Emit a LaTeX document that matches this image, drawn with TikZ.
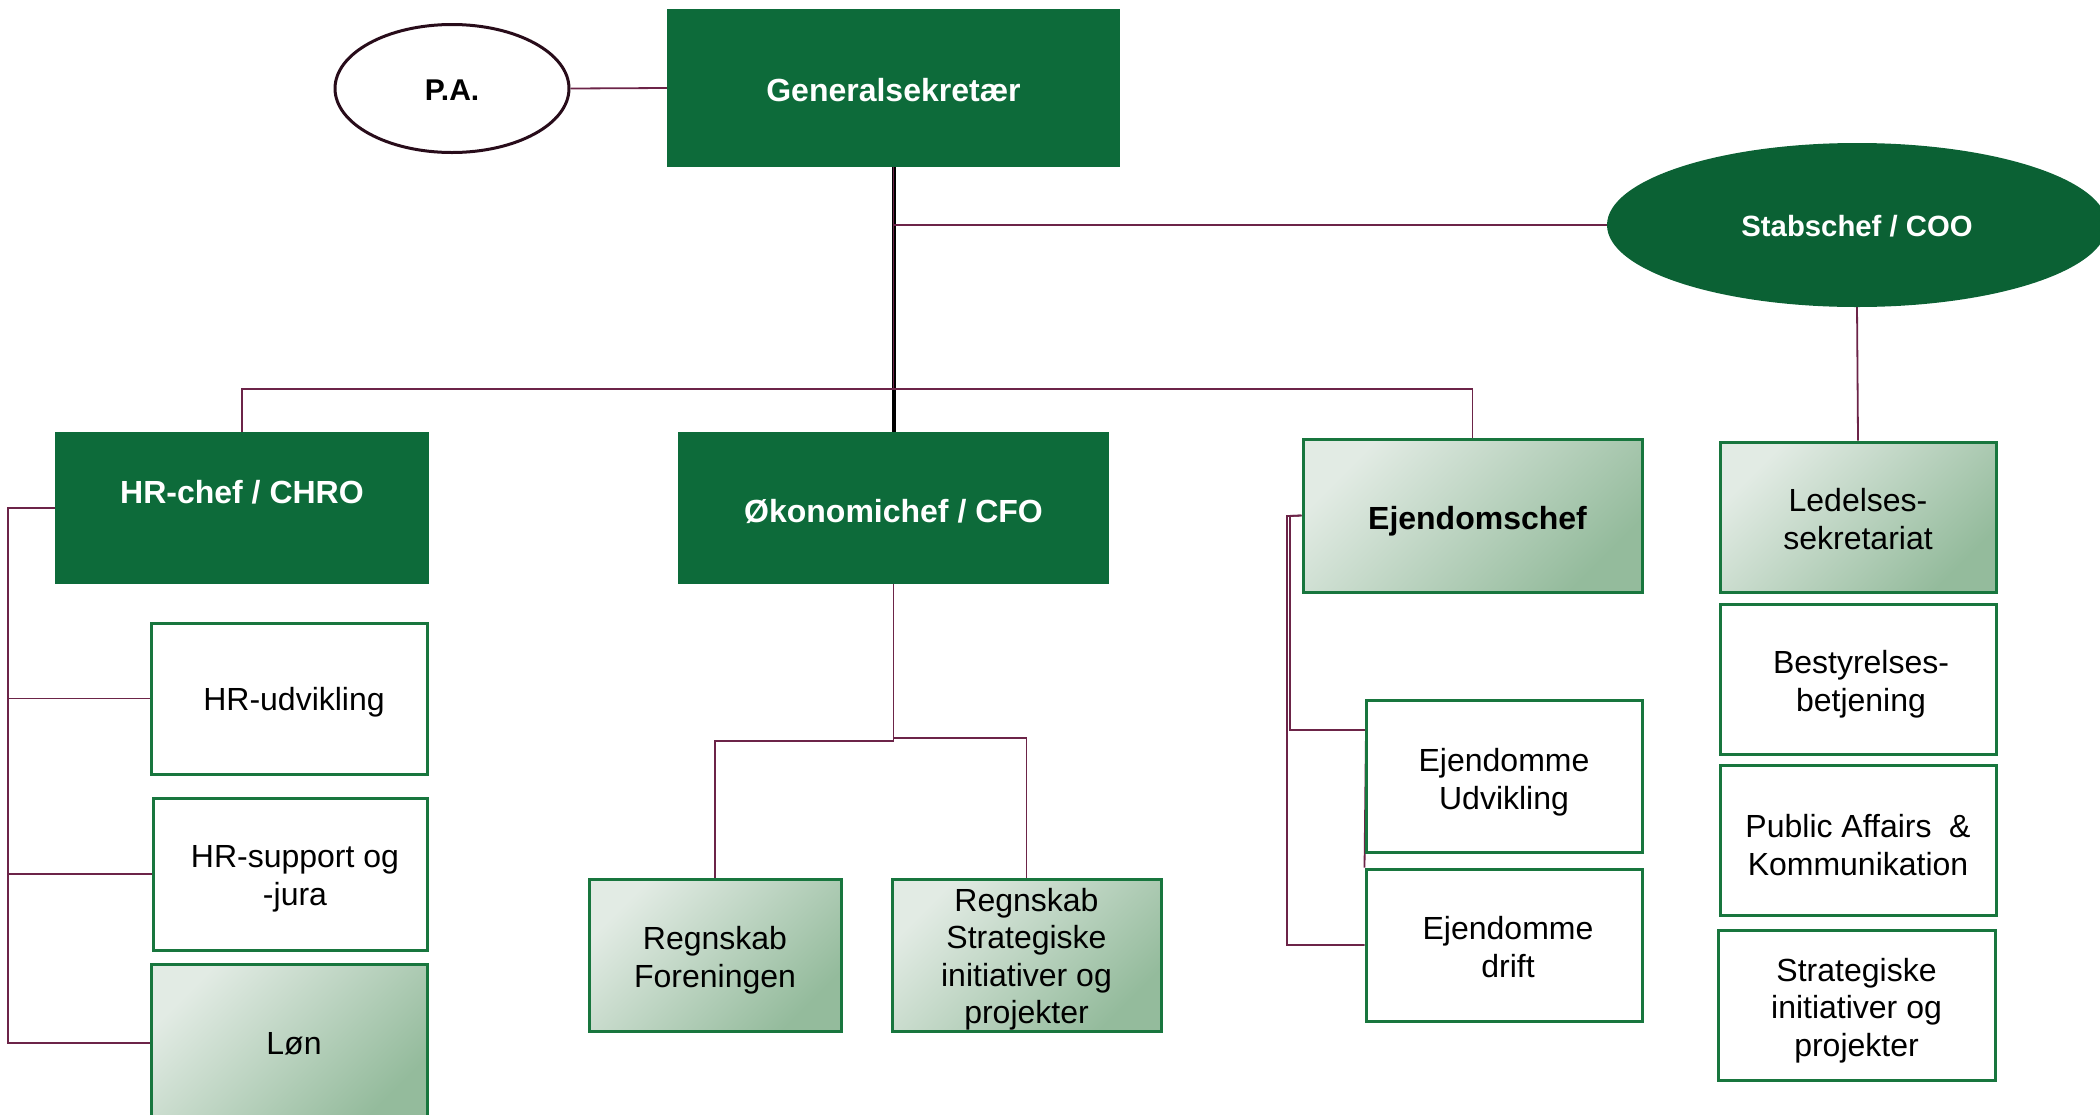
\documentclass[tikz,border=0pt]{standalone}
\usepackage{fontspec}
\setmainfont{Liberation Sans}
\usetikzlibrary{shapes.geometric,backgrounds}
\definecolor{dkgreen}{RGB}{13,107,58}
\definecolor{stgreen}{RGB}{11,97,52}
\definecolor{bdgreen}{RGB}{24,118,62}
\definecolor{gLight}{RGB}{226,235,228}
\definecolor{gDark}{RGB}{148,187,156}
\definecolor{connc}{RGB}{108,36,72}
\definecolor{paedge}{RGB}{40,12,26}
% text set in a box, moved right by #1 and down by #2, keeping the box extents
\newcommand\movedtext[3]{\hspace*{#1}\raisebox{-#2}[\height][\depth]{\begin{tabular}{@{}c@{}}#3\end{tabular}}\hspace*{-#1}}
\begin{document}
\begin{tikzpicture}[x=1pt,y=-1pt,
  conn/.style={draw=connc,line width=1.8pt},
  box/.style={rectangle,inner sep=0pt,font=\fontsize{32}{37.5}\selectfont},
  darkbox/.style={box,fill=dkgreen,text=white,font=\bfseries\fontsize{32}{37.5}\selectfont},
  whitebox/.style={box,draw=bdgreen,line width=3pt,fill=white},
  gradbox/.style={box,draw=bdgreen,line width=3pt,shade,shading=axis,top color=gLight,bottom color=gDark,shading angle=45},
  sz/.style 2 args={minimum width=#1pt,minimum height=#2pt}
]
\useasboundingbox (0,0) rectangle (2100,1114);

% top level
\node[darkbox,sz={453}{158}] (gen) at (893.5,88) {\movedtext{0pt}{6pt}{Generalsekretær}};
\node[ellipse,draw=paedge,line width=3pt,fill=white,minimum width=234pt,minimum height=128pt,inner sep=0pt,font=\bfseries\fontsize{30}{36}\selectfont] (pa) at (452,88.5) {\movedtext{0pt}{5pt}{P.A.}};
\node[ellipse,fill=stgreen,minimum width=500pt,minimum height=164pt,inner sep=0pt,text=white,font=\bfseries\fontsize{29.3}{35}\selectfont] (stab) at (1857,225) {\movedtext{0pt}{4pt}{Stabschef / COO}};

% second level
\node[darkbox,sz={374}{152},label={[text=white,font=\bfseries\fontsize{32}{37.5}\selectfont,yshift=16pt]center:HR-chef / CHRO}] (hrc) at (242,508) {};
\node[darkbox,sz={431}{152}] (oko) at (893.5,508) {\movedtext{0pt}{7pt}{Økonomichef / CFO}};
\node[gradbox,sz={339}{153},font=\bfseries\fontsize{32}{37.5}\selectfont] (ejc) at (1472.5,515.5) {\movedtext{5pt}{6pt}{Ejendomschef}};

% staff column
\node[gradbox,sz={276}{150}] (led) at (1858,517) {\movedtext{0pt}{6pt}{Ledelses-\\sekretariat}};
\node[whitebox,sz={276}{150}] (bes) at (1858,679) {\movedtext{3pt}{6pt}{Bestyrelses-\\betjening}};
\node[whitebox,sz={276}{150}] (pub) at (1858,840) {\movedtext{0pt}{9pt}{Public Affairs\hspace{0.55em}\&\\Kommunikation}};
\node[whitebox,sz={277}{150}] (str) at (1856.5,1005) {\movedtext{0pt}{6pt}{Strategiske\\initiativer og\\projekter}};

% HR column
\node[whitebox,sz={276}{151}] (hru) at (289,698.5) {\movedtext{5pt}{4pt}{HR-udvikling}};
\node[whitebox,sz={274}{152}] (hrs) at (290,874) {\movedtext{5pt}{5pt}{HR-support og\\-jura}};
\node[gradbox,sz={276}{158}] (lon) at (289,1043) {\movedtext{5pt}{4pt}{Løn}};

% finance
\node[gradbox,sz={252}{152}] (rf) at (715,955) {\movedtext{0pt}{6pt}{Regnskab\\Foreningen}};
\node[gradbox,sz={269}{152}] (rs) at (1026.5,955) {\movedtext{0pt}{5pt}{Regnskab\\Strategiske\\initiativer og\\projekter}};

% property
\node[whitebox,sz={276}{152}] (eu) at (1504,776) {\movedtext{0pt}{7pt}{Ejendomme\\Udvikling}};
\node[whitebox,sz={276}{152}] (ed) at (1504,945) {\movedtext{4pt}{6pt}{Ejendomme\\drift}};

% helper coordinates
\coordinate (bj) at (893.5,389);
\coordinate (hrk) at (8,508);
\coordinate (ok1) at (893.5,741);
\coordinate (ok2) at (893.5,738);
\coordinate (ej1) at (1290,516);
\coordinate (ej2) at (1287,516);
\coordinate (eua) at (1366,730);

\begin{scope}[on background layer]
  \draw[conn] (pa.east) -- (gen.west);
  \draw[line width=4pt,black] (gen.south) -- (oko.north);
  \draw[conn] (gen.south) -- (bj);
  \draw[conn] (stab.west) -- (stab.west -| gen.south);
  \draw[conn] (hrc.north) |- (bj) -| (ejc.north);
  \draw[conn] (stab.south) -- (led.north);
  \draw[conn] (hrc.west) -- (hrk) |- (lon.west);
  \draw[conn] (hrk) |- (hru.west);
  \draw[conn] (hrk) |- (hrs.west);
  \draw[conn] (oko.south) -- (ok1) -| (rf.north);
  \draw[conn] (ok2) -| (rs.north);
  \draw[conn] (ejc.west) -- (ej1) |- (eua) -- (ed.north west);
  \draw[conn] (ejc.west) -- (ej2) |- (ed.west);
\end{scope}
\end{tikzpicture}
\end{document}
